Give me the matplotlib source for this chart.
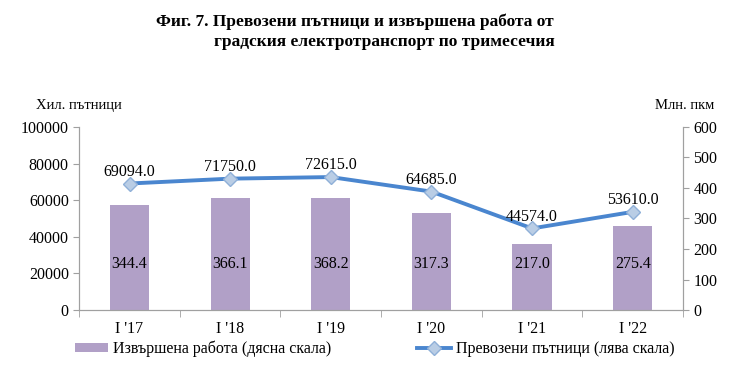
import matplotlib.pyplot as plt
import numpy as np

quarters = ["I '17", "I '18", "I '19", "I '20", "I '21", "I '22"]
passengers = [69094.0, 71750.0, 72615.0, 64685.0, 44574.0, 53610.0]  # left scale
work = [344.4, 366.1, 368.2, 317.3, 217.0, 275.4]  # right scale

plt.rcParams['font.family'] = ['Liberation Serif', 'DejaVu Serif']

fig = plt.figure(figsize=(7.4, 3.7), dpi=100)
ax = fig.add_axes([0.107, 0.162, 0.816, 0.495])
ax2 = ax.twinx()

x = np.arange(len(quarters))

# bars on the right axis
ax2.bar(x, work, width=0.39, color='#b1a0c7', zorder=1, label='Извършена работа (дясна скала)')
for xi, v in zip(x, work):
    ax2.text(xi, 150, f"{v:.1f}", ha='center', va='center', fontsize=11.5)
ax2.set_ylim(0, 600)
ax2.set_yticks(range(0, 601, 100))

# line on the left axis, drawn above bars
ax.set_zorder(ax2.get_zorder() + 1)
ax.patch.set_visible(False)
ax.plot(x, passengers, color='#4a86cf', lw=2.8, marker='D', ms=7,
        mfc='#b9cde5', mec='#8fb0d8', mew=1, label='Превозени пътници (лява скала)')
for xi, v in zip(x, passengers):
    ax.text(xi, v + 6500, f"{v:.1f}", ha='center', va='center', fontsize=11.5)
ax.set_ylim(0, 100000)
ax.set_yticks(range(0, 100001, 20000))
ax.set_xlim(-0.5, len(quarters) - 0.5)
ax.set_xticks(x)
ax.set_xticklabels(quarters)
ax.set_xticks(np.arange(-0.5, len(quarters), 1), minor=True)
ax.tick_params(axis='x', which='major', length=0, pad=8, labelsize=11.5)
ax.tick_params(axis='x', which='minor', length=5, color='#a0a0a0')
ax.tick_params(axis='y', length=4, color='#a0a0a0', labelsize=11.5)
ax2.tick_params(axis='y', length=4, color='#a0a0a0', labelsize=11.5)

for a in (ax, ax2):
    a.spines['top'].set_visible(False)
    for s in ('left', 'right', 'bottom'):
        a.spines[s].set_color('#a0a0a0')

fig.text(0.048, 0.705, "Хил. пътници", fontsize=10.5)
fig.text(0.885, 0.705, "Млн. пкм", fontsize=10.5)

fig.text(0.48, 0.93, "Фиг. 7. Превозени пътници и извършена работа от",
         ha='center', fontsize=12.5, fontweight='bold')
fig.text(0.52, 0.875, "градския електротранспорт по тримесечия",
         ha='center', fontsize=12.5, fontweight='bold')

h1, l1 = ax2.get_legend_handles_labels()
h2, l2 = ax.get_legend_handles_labels()
fig.legend(h1 + h2, l1 + l2, loc='center', bbox_to_anchor=(0.506, 0.058), ncol=2,
           frameon=False, fontsize=11.5, handlelength=2.1, handleheight=0.5,
           handletextpad=0.3, columnspacing=5.4)

fig.savefig("out.png", dpi=100)
